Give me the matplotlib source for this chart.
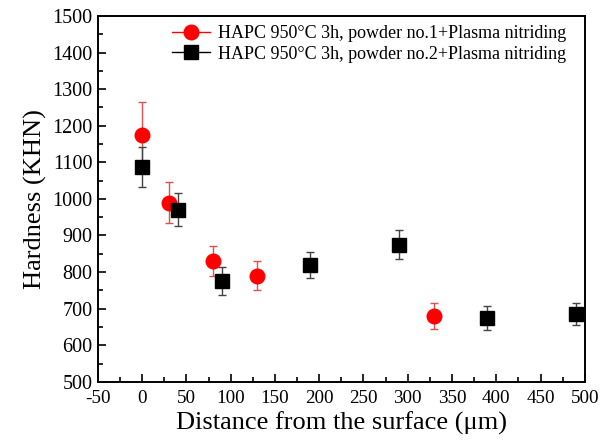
import matplotlib
matplotlib.use("Agg")
import matplotlib.pyplot as plt
from matplotlib.ticker import MultipleLocator
from matplotlib.lines import Line2D

# powder no.1 (red circles)
x1 = [0, 30, 80, 130, 330]
y1 = [1175, 990, 830, 790, 680]
e1 = [90, 55, 40, 40, 35]

# powder no.2 (black squares)
x2 = [0, 40, 90, 190, 290, 390, 490]
y2 = [1087, 970, 775, 820, 875, 675, 685]
e2 = [55, 45, 38, 35, 40, 32, 30]

labels = ["HAPC 950\u00b0C 3h, powder no.1+Plasma nitriding",
          "HAPC 950\u00b0C 3h, powder no.2+Plasma nitriding"]

plt.rcParams['font.family'] = ['Liberation Serif', 'DejaVu Serif']
plt.rcParams['axes.unicode_minus'] = False

fig = plt.figure(figsize=(6.01, 4.44), dpi=100)
ax = fig.add_axes([0.163, 0.14, 0.810, 0.824])

ax.errorbar(x1, y1, yerr=e1, fmt='o', color='red', ecolor='#e05050',
            markersize=10.5, capsize=3, elinewidth=1, capthick=1, label=labels[0])
ax.errorbar(x2, y2, yerr=e2, fmt='s', color='black', ecolor='#444444',
            markersize=9.5, capsize=3, elinewidth=1, capthick=1, label=labels[1])

ax.set_xlim(-50, 500)
ax.set_ylim(500, 1500)
ax.xaxis.set_major_locator(MultipleLocator(50))
ax.xaxis.set_minor_locator(MultipleLocator(25))
ax.yaxis.set_major_locator(MultipleLocator(100))
ax.yaxis.set_minor_locator(MultipleLocator(50))
ax.tick_params(which='both', direction='in', labelsize=14.5, width=1.2)
ax.tick_params(axis='x', labelsize=13.8)
ax.tick_params(which='major', length=6)
ax.tick_params(which='minor', length=3.5)
ax.tick_params(axis='x', pad=6)
ax.tick_params(axis='y', pad=4)
for s in ax.spines.values():
    s.set_linewidth(1.4)

ax.set_xlabel("Distance from the surface (\u03bcm)", fontsize=19, labelpad=3)
ax.set_ylabel("Hardness (KHN)", fontsize=19, labelpad=4)

# origin-style legend: line through the marker
handles = [Line2D([], [], color='red', marker='o', markersize=10.5, lw=1, label=labels[0]),
           Line2D([], [], color='black', marker='s', markersize=9.5, lw=1, label=labels[1])]
ax.legend(handles=handles, loc='upper left', bbox_to_anchor=(0.152, 0.975),
          frameon=False, fontsize=13, borderpad=0, borderaxespad=0,
          handlelength=2.1, handletextpad=0.45, labelspacing=0.2)

fig.savefig("out.png", dpi=100)
